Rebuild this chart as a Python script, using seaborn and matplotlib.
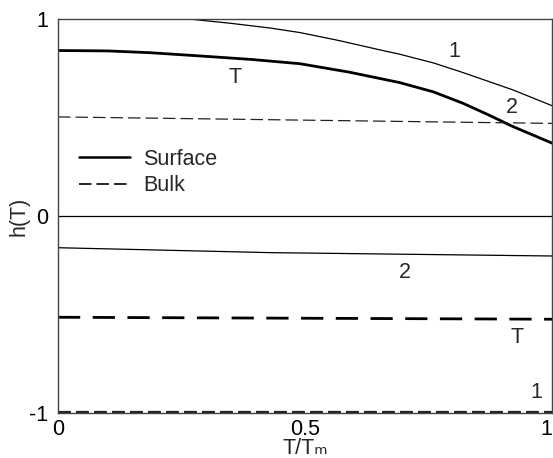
import numpy as np
import pandas as pd
import matplotlib
matplotlib.use("Agg")
import matplotlib.pyplot as plt
from matplotlib.lines import Line2D
import seaborn as sns

# Surface curves (solid)
t_surf1 = [0.0, 0.15, 0.273, 0.35, 0.43, 0.49, 0.57, 0.652, 0.692, 0.76, 0.82, 0.921, 1.0]
h_surf1 = [1.0, 1.0, 0.998, 0.978, 0.954, 0.931, 0.89, 0.843, 0.821, 0.777, 0.728, 0.64, 0.56]

t_surfT = [0.0, 0.1, 0.186, 0.29, 0.39, 0.49, 0.59, 0.692, 0.76, 0.82, 0.87, 0.92, 1.0]
h_surfT = [0.84, 0.838, 0.829, 0.812, 0.795, 0.773, 0.73, 0.677, 0.63, 0.572, 0.515, 0.455, 0.37]

t_surf2 = [0.0, 0.43, 1.0]
h_surf2 = [-0.161, -0.186, -0.203]

# Bulk curves (dashed)
t_bulk = [0.0, 1.0]
h_bulk2 = [0.503, 0.47]
h_bulkT = [-0.514, -0.524]
h_bulk1 = [-0.995, -0.995]

# curve labels: text, x, y
curve_labels = [("T", 0.358, 0.703), ("1", 0.802, 0.834), ("2", 0.918, 0.553),
                ("2", 0.702, -0.285), ("T", 0.930, -0.617), ("1", 0.968, -0.896)]

sns.set_style("white")
plt.rcParams['font.family'] = ['Liberation Sans', 'DejaVu Sans']
plt.rcParams['axes.unicode_minus'] = False

fig = plt.figure(figsize=(5.53, 4.58), dpi=100)
ax = fig.add_axes([58 / 553, 45 / 458, 494 / 553, 394 / 458])

fs = 15.5

ax.axhline(0, color="black", linewidth=0.9)

sns.lineplot(x=t_surf1, y=h_surf1, ax=ax, color="black", linewidth=0.9)
sns.lineplot(x=t_surfT, y=h_surfT, ax=ax, color="black", linewidth=2.0)
sns.lineplot(x=t_surf2, y=h_surf2, ax=ax, color="black", linewidth=0.9)

sns.lineplot(x=t_bulk, y=h_bulk2, ax=ax, color="#222222", linewidth=0.9,
             linestyle=(0, (10, 4)))
sns.lineplot(x=t_bulk, y=h_bulkT, ax=ax, color="black", linewidth=2.0,
             linestyle=(0, (8, 4.5)))
sns.lineplot(x=t_bulk, y=h_bulk1, ax=ax, color="#222222", linewidth=1.6,
             linestyle=(0, (5.8, 2.3)))

for txt, x, y in curve_labels:
    ax.text(x, y, txt, fontsize=fs, ha="center", va="center")

ax.set_xlim(0, 1)
ax.set_ylim(-1, 1)
ax.set_xticks([0, 0.5, 1])
ax.set_xticklabels(["0", "0.5", "1"])
ax.set_yticks([-1, 0, 1])
ax.set_yticklabels(["-1", "0", "1"])
ax.tick_params(length=0, labelsize=fs, colors="black")
ax.tick_params(axis="x", pad=4)
ax.tick_params(axis="y", pad=7)
ax.get_xticklabels()[-1].set_ha("right")
ax.set_xlabel("T/T\u2098", fontsize=fs, labelpad=-1)
ax.set_ylabel("h(T)", fontsize=fs, labelpad=0)

for s in ax.spines.values():
    s.set_visible(True)
    s.set_color("#444444")
    s.set_linewidth(1.0)

handles = [Line2D([], [], color="black", linewidth=1.8),
           Line2D([], [], color="black", linewidth=1.2, linestyle=(0, (7.5, 3)))]
ax.legend(handles, ["Surface", "Bulk"], loc="upper left",
          bbox_to_anchor=(0.004, 0.72), frameon=False, fontsize=fs,
          handlelength=2.35, handletextpad=0.6, labelspacing=0.25)

fig.savefig("out.png", dpi=100)
